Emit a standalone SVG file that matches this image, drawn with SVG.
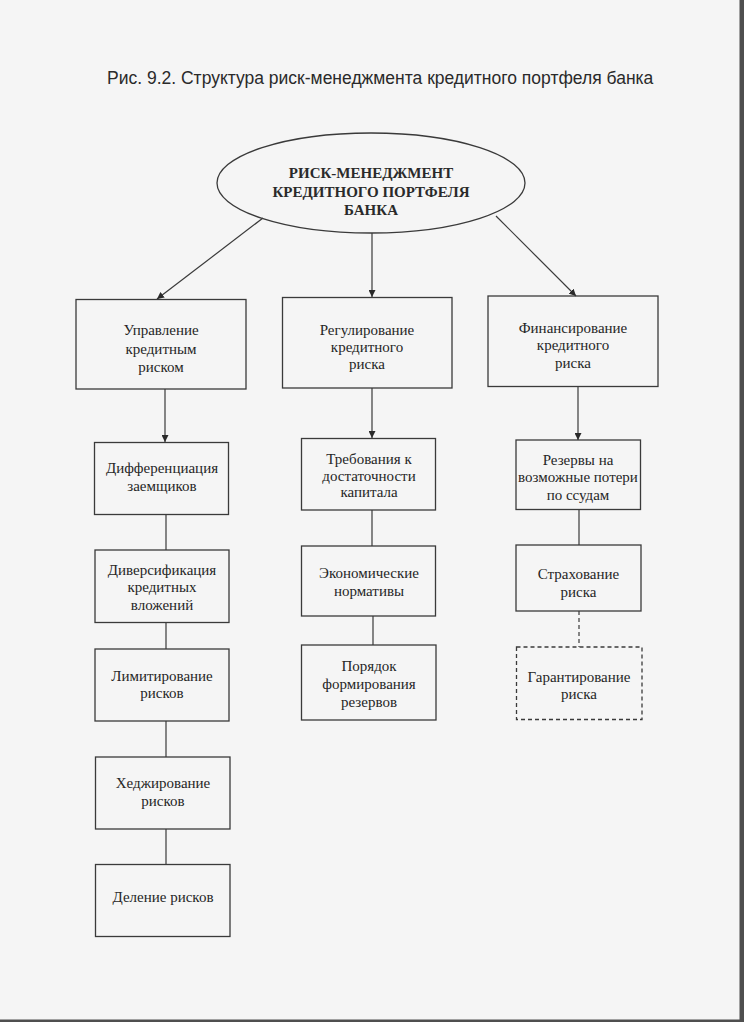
<svg xmlns="http://www.w3.org/2000/svg" width="744" height="1022" viewBox="0 0 744 1022">
<style>
.bx{fill:none;stroke:#3a3a3a;stroke-width:1.3}
.dash{stroke-dasharray:4 3}
.ln{fill:none;stroke:#3a3a3a;stroke-width:1.2}
.t{font-family:"Liberation Serif","Times New Roman",serif;font-size:15px;fill:#262626;text-anchor:middle}
.tb{font-family:"Liberation Serif","Times New Roman",serif;font-size:15px;font-weight:bold;fill:#2a2a2a;text-anchor:middle}
.title{font-family:"Liberation Sans",Arial,sans-serif;font-size:17.5px;fill:#2a2a2a}
</style>
<defs>
<marker id="ah" viewBox="0 0 10 10" refX="10" refY="5" markerWidth="7" markerHeight="7" markerUnits="userSpaceOnUse" orient="auto">
<path d="M0,0 L10,5 L0,10 z" fill="#2a2a2a"/>
</marker>
</defs>
<rect x="0" y="0" width="744" height="1022" fill="#f5f5f5"/>
<rect x="739.5" y="0" width="4.5" height="1022" fill="#4f4f4f"/>
<rect x="0" y="1019.5" width="744" height="2.5" fill="#4f4f4f"/>

<text class="title" x="107" y="84">Рис. 9.2. Структура риск-менеджмента кредитного портфеля банка</text>

<g id="connectors">
<line class="ln" x1="263" y1="218" x2="157" y2="299" marker-end="url(#ah)"/>
<line class="ln" x1="372" y1="233" x2="372" y2="297" marker-end="url(#ah)"/>
<line class="ln" x1="496" y1="216" x2="576" y2="296" marker-end="url(#ah)"/>
<line class="ln" x1="165" y1="389" x2="165" y2="442" marker-end="url(#ah)"/>
<line class="ln" x1="372" y1="388" x2="372" y2="438" marker-end="url(#ah)"/>
<line class="ln" x1="578" y1="387" x2="578" y2="440" marker-end="url(#ah)"/>
<line class="ln" x1="166" y1="514" x2="166" y2="550"/>
<line class="ln" x1="166" y1="622" x2="166" y2="649"/>
<line class="ln" x1="166" y1="721" x2="166" y2="757"/>
<line class="ln" x1="166" y1="829" x2="166" y2="864"/>
<line class="ln" x1="372" y1="510" x2="372" y2="546"/>
<line class="ln" x1="373" y1="616" x2="373" y2="645"/>
<line class="ln" x1="579" y1="509" x2="579" y2="545"/>
<line class="ln dash" x1="579" y1="611" x2="579" y2="647"/>
</g>

<g id="root">
<ellipse class="bx" cx="371" cy="183" rx="154" ry="50"/>
<text class="tb" x="371" y="178">РИСК-МЕНЕДЖМЕНТ</text>
<text class="tb" x="371" y="197">КРЕДИТНОГО ПОРТФЕЛЯ</text>
<text class="tb" x="371" y="215">БАНКА</text>
</g>

<g id="upravlenie">
<rect class="bx" x="76" y="299.5" width="170" height="89.5"/>
<text class="t" x="161" y="335">Управление</text>
<text class="t" x="161" y="354">кредитным</text>
<text class="t" x="161" y="372">риском</text>
</g>
<g id="regulirovanie">
<rect class="bx" x="282.5" y="297.5" width="169.5" height="90.5"/>
<text class="t" x="367" y="335">Регулирование</text>
<text class="t" x="367" y="352">кредитного</text>
<text class="t" x="367" y="369">риска</text>
</g>
<g id="finansirovanie">
<rect class="bx" x="488" y="296" width="170" height="90.5"/>
<text class="t" x="573" y="333">Финансирование</text>
<text class="t" x="573" y="350">кредитного</text>
<text class="t" x="573" y="368">риска</text>
</g>

<g id="differenciacia">
<rect class="bx" x="94.5" y="442.5" width="134" height="72"/>
<text class="t" x="162" y="473">Дифференциация</text>
<text class="t" x="162" y="491">заемщиков</text>
</g>
<g id="diversifikacia">
<rect class="bx" x="95" y="550" width="134" height="72.5"/>
<text class="t" x="162" y="575">Диверсификация</text>
<text class="t" x="162" y="592">кредитных</text>
<text class="t" x="162" y="610">вложений</text>
</g>
<g id="limitirovanie">
<rect class="bx" x="95" y="649" width="134" height="72"/>
<text class="t" x="162" y="681">Лимитирование</text>
<text class="t" x="162" y="698">рисков</text>
</g>
<g id="hedzhirovanie">
<rect class="bx" x="95.5" y="757" width="134.5" height="72"/>
<text class="t" x="163" y="788">Хеджирование</text>
<text class="t" x="163" y="806">рисков</text>
</g>
<g id="delenie">
<rect class="bx" x="95.5" y="864.5" width="134.5" height="72"/>
<text class="t" x="163" y="902">Деление рисков</text>
</g>

<g id="trebovania">
<rect class="bx" x="301.5" y="438.5" width="134" height="71.5"/>
<text class="t" x="369" y="464">Требования к</text>
<text class="t" x="369" y="481">достаточности</text>
<text class="t" x="369" y="497">капитала</text>
</g>
<g id="normativy">
<rect class="bx" x="301.5" y="546" width="134" height="70"/>
<text class="t" x="369" y="578">Экономические</text>
<text class="t" x="369" y="596">нормативы</text>
</g>
<g id="poryadok">
<rect class="bx" x="301.5" y="645" width="134.5" height="75"/>
<text class="t" x="369" y="671">Порядок</text>
<text class="t" x="369" y="689">формирования</text>
<text class="t" x="369" y="707">резервов</text>
</g>

<g id="rezervy">
<rect class="bx" x="516" y="440" width="124.5" height="69.5"/>
<text class="t" x="578" y="465">Резервы на</text>
<text class="t" x="578" y="482">возможные потери</text>
<text class="t" x="578" y="500">по ссудам</text>
</g>
<g id="strahovanie">
<rect class="bx" x="516" y="545" width="125" height="66"/>
<text class="t" x="578.5" y="579">Страхование</text>
<text class="t" x="578.5" y="597">риска</text>
</g>
<g id="garantirovanie">
<rect class="bx dash" x="516.5" y="647" width="125.5" height="72.5"/>
<text class="t" x="579" y="682">Гарантирование</text>
<text class="t" x="579" y="699">риска</text>
</g>
</svg>
